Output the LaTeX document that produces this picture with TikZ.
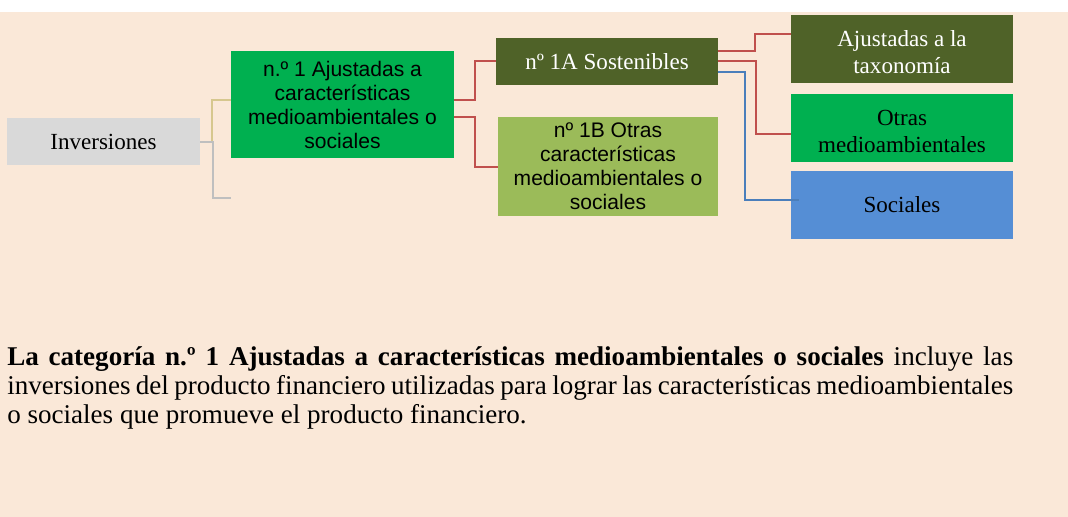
\documentclass[tikz,border=0pt]{standalone}
\usepackage{fontspec}
\setmainfont{Liberation Serif}
\newfontfamily\arialfont{Liberation Sans}
\usetikzlibrary{positioning}
\definecolor{bgbeige}{HTML}{FAE8D8}
\definecolor{greybox}{HTML}{D9D9D9}
\definecolor{brightgreen}{HTML}{00B050}
\definecolor{darkolive}{HTML}{4F6228}
\definecolor{lightolive}{HTML}{9BBB59}
\definecolor{skyblue}{HTML}{558ED5}
\definecolor{redline}{HTML}{C0504D}
\definecolor{tanline}{HTML}{D6C78E}
\definecolor{greyline}{HTML}{BFBFBF}
\definecolor{blueline}{HTML}{4A7EBB}
\newcommand\lowstrut{\rule{0pt}{17.4pt}}

\begin{document}
\begin{tikzpicture}[x=0.75pt,y=-0.75pt]
  \tikzstyle{box}=[inner sep=0pt,align=center]
  \tikzstyle{sansbox}=[box,font=\arialfont\fontsize{15.8}{18}\selectfont]
  \tikzstyle{serifbox}=[box,font=\fontsize{17.3}{20.25}\selectfont]
  \tikzstyle{link}=[line width=1.5pt]

  \useasboundingbox (0,0) rectangle (1068,517);
  \fill[white] (0,0) rectangle (1068,12);
  \fill[bgbeige] (0,12) rectangle (1068,517);

  \node[serifbox,fill=greybox,minimum width=144.75pt,minimum height=35.25pt] (inv) at (103.5,141.5) {Inversiones};
  \node[sansbox,fill=brightgreen,minimum width=167.25pt,minimum height=80.25pt] (cat1) at (342.5,104.5) {n.º 1 Ajustadas a\\características\\medioambientales o\\sociales};
  \node[serifbox,fill=darkolive,text=white,minimum width=166.5pt,minimum height=35.25pt] (sost) at (607,61.5) {nº 1A Sostenibles};
  \node[sansbox,fill=lightolive,minimum width=165pt,minimum height=74.25pt] (otr1b) at (608,166.5) {nº 1B Otras\\características\\medioambientales o\\sociales};
  \node[serifbox,fill=darkolive,text=white,minimum width=166.5pt,minimum height=51pt] (taxo) at (902,49) {\lowstrut Ajustadas a la\\taxonomía};
  \node[serifbox,fill=brightgreen,minimum width=166.5pt,minimum height=51pt,below=7.5pt of taxo] (otrma) {\lowstrut Otras\\medioambientales};
  \node[serifbox,fill=skyblue,minimum width=166.5pt,minimum height=51pt,below=6.75pt of otrma] (soc) {Sociales};
  \coordinate (blank) at (231,198);

  \draw[link,tanline] (inv.east) -- ++(12,0) |- ([yshift=3pt] cat1.west);
  \draw[link,greyline] (inv.east) -- ++(13,0) |- (blank);
  \draw[link,redline] ([yshift=3pt] cat1.east) -- ++(21,0) |- (sost.west);
  \draw[link,redline] ([yshift=-9.4pt] cat1.east) -- ++(21,0) |- (otr1b.west);
  \draw[link,redline] ([yshift=7.9pt] sost.east) -- ++(37,0) |- ([yshift=11pt] taxo.west);
  \draw[link,redline] (sost.east) -- ++(38,0) |- ([yshift=-5pt] otrma.west);
  \draw[link,blueline] ([yshift=-7.9pt] sost.east) -- ++(27,0) |- ([xshift=6pt,yshift=3.75pt] soc.west);

  \node[anchor=base west,text width=754.5pt,align=justify,inner sep=0pt,font=\fontsize{20.3}{21.75}\selectfont] (txt) at (7,365) {\textbf{La categoría n.º 1 Ajustadas a características medioambientales o sociales} incluye las\linebreak inversiones del producto financiero utilizadas para lograr las características medioambientales\linebreak o sociales que promueve el producto financiero.};
\end{tikzpicture}
\end{document}
